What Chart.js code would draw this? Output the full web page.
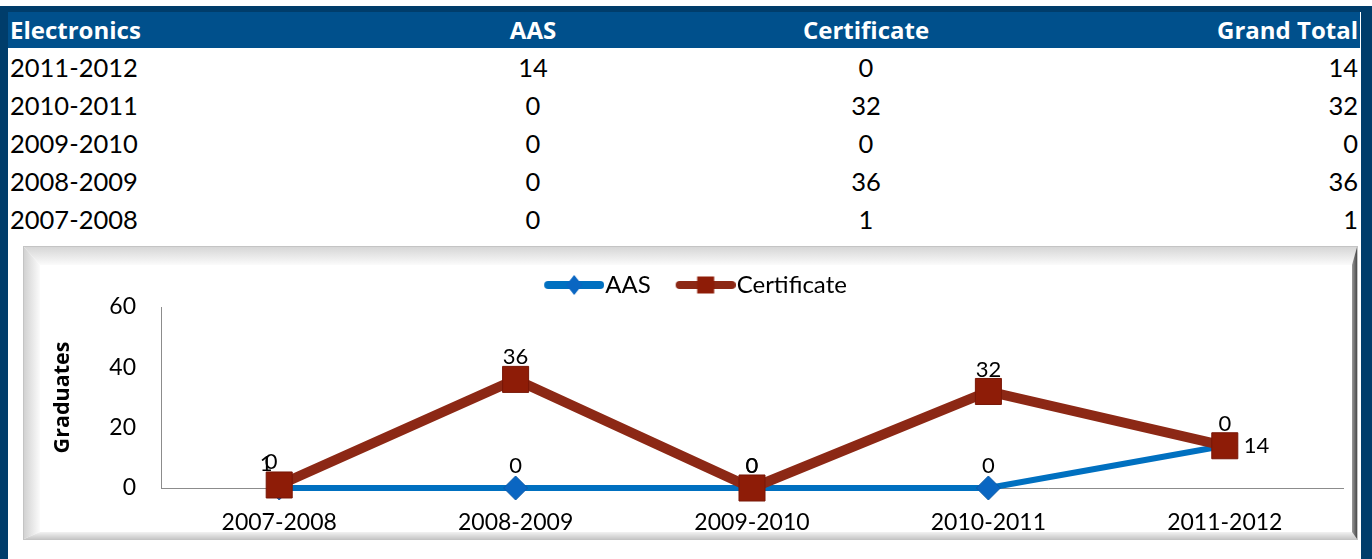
<!DOCTYPE html>
<html>
<head>
<meta charset="utf-8">
<script src="https://cdn.jsdelivr.net/npm/chart.js@4.4.1/dist/chart.umd.min.js"></script>
<style>
  html, body { margin: 0; padding: 0; }
  body { width: 1372px; height: 559px; position: relative; overflow: hidden; background: #fff; font-family: Lato, "Open Sans", sans-serif; }
  .frame { position: absolute; background: #003d6b; }
  #grid { position: absolute; left: 8px; top: 12px; width: 1352px; border-collapse: collapse; table-layout: fixed; }
  #grid th, #grid td { padding: 0; white-space: nowrap; }
  #grid th { height: 36px; background: #00508c; color: #fff; font-family: "Open Sans", Lato, sans-serif; font-weight: bold; font-size: 24px; line-height: 32px; }
  #grid td { height: 38px; color: #000; font-size: 25.5px; }
  #grid .c0 { text-align: left; padding-left: 2px; }
  #grid .c1, #grid .c2 { text-align: center; }
  #grid .c3 { text-align: right; padding-right: 2px; }
  #box { position: absolute; left: 23px; top: 246px; width: 1335px; height: 294px; box-sizing: border-box; border: 1px solid #c4c4c4; background: #fff; overflow: hidden; }
  .bev { position: absolute; }
  .bev.t { left: 0; right: 0; top: 0; height: 18px; background: linear-gradient(to bottom, #d6d6d6, #fbfbfb); clip-path: polygon(0 0, 100% 0, calc(100% - 5px) 100%, 16px 100%); }
  .bev.l { left: 0; top: 0; bottom: 0; width: 16px; background: linear-gradient(to right, #d2d2d2, #fbfbfb); clip-path: polygon(0 0, 100% 18px, 100% calc(100% - 7px), 0 100%); }
  .bev.b { left: 0; right: 0; bottom: 0; height: 7px; background: linear-gradient(to top, #c8c8c8, #f2f2f2); clip-path: polygon(16px 0, calc(100% - 5px) 0, 100% 100%, 0 100%); }
  .bev.r { right: 0; top: 0; bottom: 0; width: 5px; background: linear-gradient(to left, #4a4a4a, #9a9a9a); clip-path: polygon(0 18px, 100% 0, 100% 100%, 0 calc(100% - 7px)); }
  #chartWrap { position: absolute; left: 23px; top: 246px; width: 1335px; height: 294px; }
</style>
</head>
<body>
<div class="frame" style="left:0;top:6px;width:1372px;height:6px"></div>
<div class="frame" style="left:0;top:6px;width:8px;height:553px"></div>
<div class="frame" style="left:1361px;top:6px;width:11px;height:553px"></div>

<table id="grid">
  <colgroup><col style="width:392px"><col style="width:266px"><col style="width:400px"><col style="width:294px"></colgroup>
  <thead><tr id="headRow"></tr></thead>
  <tbody id="bodyRows"></tbody>
</table>

<div id="box"><div class="bev t"></div><div class="bev l"></div><div class="bev b"></div><div class="bev r"></div></div>
<div id="chartWrap"><canvas id="gradChart"></canvas></div>

<script>
const headers = ['Electronics', 'AAS', 'Certificate', 'Grand Total'];
const years = ['2007-2008', '2008-2009', '2009-2010', '2010-2011', '2011-2012'];
const aasValues = [0, 0, 0, 0, 14];
const certValues = [1, 36, 0, 32, 0];
const yTicks = [0, 20, 40, 60];

const FONT = 'Lato, "Open Sans", sans-serif';

// table, newest year first like the sheet
const headRow = document.getElementById('headRow');
headers.forEach((h, i) => {
    const th = document.createElement('th');
    th.className = 'c' + i;
    th.textContent = h;
    headRow.appendChild(th);
});
const bodyRows = document.getElementById('bodyRows');
for (let i = years.length - 1; i >= 0; i--) {
    const tr = document.createElement('tr');
    [years[i], aasValues[i], certValues[i], aasValues[i] + certValues[i]].forEach((v, c) => {
        const td = document.createElement('td');
        td.className = 'c' + c;
        td.textContent = v;
        tr.appendChild(td);
    });
    bodyRows.appendChild(tr);
}

// legend icons: line with marker in the middle
function legendIcon(color, fill, marker) {
    const c = document.createElement('canvas');
    c.width = 96; c.height = 22;
    const g = c.getContext('2d');
    g.strokeStyle = color;
    g.lineWidth = 8;
    g.lineCap = 'round';
    g.beginPath(); g.moveTo(40, 11); g.lineTo(92, 11); g.stroke();
    g.fillStyle = fill;
    g.beginPath();
    if (marker === 'diamond') {
        g.moveTo(66, 1); g.lineTo(74, 11); g.lineTo(66, 21); g.lineTo(58, 11);
    } else {
        g.rect(57.5, 2.5, 17, 17);
    }
    g.closePath(); g.fill();
    return c;
}
const icons = [
    legendIcon('#0070c0', '#0a66c2', 'diamond'),
    legendIcon('#8c2815', '#8e1c07', 'square')
];

// certificate series is painted above the AAS one, as in the sheet
const raiseTop = {
    id: 'raiseTop',
    beforeDatasetDraw(chart, args) {
        if (args.index === 1 && !chart.$raising) return false;
    },
    afterDatasetsDraw(chart) {
        chart.$raising = true;
        chart.getDatasetMeta(1).controller.draw();
        chart.$raising = false;
    }
};

const pointLabels = {
    id: 'pointLabels',
    afterDatasetsDraw(chart, args, opts) {
        const ctx = chart.ctx;
        ctx.save();
        ctx.font = '22px ' + FONT;
        ctx.fillStyle = '#000';
        ctx.textBaseline = 'middle';
        chart.data.datasets.forEach((ds, i) => {
            chart.getDatasetMeta(i).data.forEach((pt, j) => {
                const txt = String(ds.data[j]);
                const right = opts.right.some(p => p[0] === i && p[1] === j);
                const nudge = opts.nudge.find(p => p[0] === i && p[1] === j) || [i, j, 0, 0];
                if (right) {
                    ctx.textAlign = 'left';
                    ctx.fillText(txt, pt.x + 19, pt.y);
                } else {
                    ctx.textAlign = 'center';
                    ctx.fillText(txt, pt.x + nudge[2], pt.y - opts.above + nudge[3]);
                }
            });
        });
        ctx.restore();
    }
};

new Chart(document.getElementById('gradChart'), {
    type: 'line',
    data: {
        labels: years,
        datasets: [
            {
                label: 'AAS',
                data: aasValues,
                borderColor: '#0070c0',
                borderWidth: 6,
                pointStyle: 'rectRot',
                pointRadius: 12,
                pointHoverRadius: 12,
                pointBackgroundColor: '#0a66c2',
                pointBorderColor: '#0a5aa8',
                pointBorderWidth: 1,
                tension: 0,
                clip: false
            },
            {
                label: 'Certificate',
                data: certValues,
                borderColor: '#8c2815',
                borderWidth: 10,
                pointStyle: 'rect',
                pointRadius: 18.4,
                pointHoverRadius: 18.4,
                pointBackgroundColor: '#8e1c07',
                pointBorderColor: '#781606',
                pointBorderWidth: 1,
                tension: 0,
                clip: false
            }
        ]
    },
    options: {
        responsive: true,
        maintainAspectRatio: false,
        animation: false,
        events: [],
        layout: { autoPadding: false, padding: { top: 27, right: 15, bottom: 0, left: 0 } },
        plugins: {
            tooltip: { enabled: false },
            legend: {
                position: 'top',
                labels: {
                    usePointStyle: true,
                    pointStyleWidth: 74,
                    padding: 0,
                    color: '#000',
                    font: { family: FONT, size: 24 },
                    generateLabels: chart => chart.data.datasets.map((ds, i) => ({
                        text: ds.label,
                        pointStyle: icons[i],
                        datasetIndex: i,
                        hidden: false,
                        lineWidth: 0,
                        fillStyle: 'transparent',
                        strokeStyle: 'transparent'
                    }))
                }
            },
            pointLabels: {
                above: 22,
                right: [[0, 4]],
                nudge: [[0, 0, -8, -4], [1, 0, -13, 1]]
            }
        },
        scales: {
            x: {
                offset: true,
                grid: { display: false, drawTicks: false },
                border: { color: '#8c8c8c', width: 1 },
                ticks: { color: '#000', font: { family: FONT, size: 23 }, padding: 21, maxRotation: 0 },
                afterFit: s => { s.height = 52; }
            },
            y: {
                stacked: true,
                min: yTicks[0],
                max: yTicks[yTicks.length - 1],
                grid: { display: false, drawTicks: false },
                border: { color: '#8c8c8c', width: 1 },
                ticks: {
                    stepSize: yTicks[1] - yTicks[0],
                    color: '#000',
                    font: { family: FONT, size: 23 },
                    padding: 25
                },
                title: {
                    display: true,
                    text: 'Graduates',
                    color: '#000',
                    font: { family: '"Open Sans", Lato, sans-serif', size: 21.5, weight: 'bold' },
                    padding: { top: 27, bottom: 0 }
                },
                afterFit: s => { s.width = 138; }
            }
        }
    },
    plugins: [raiseTop, pointLabels]
});
</script>
</body>
</html>
